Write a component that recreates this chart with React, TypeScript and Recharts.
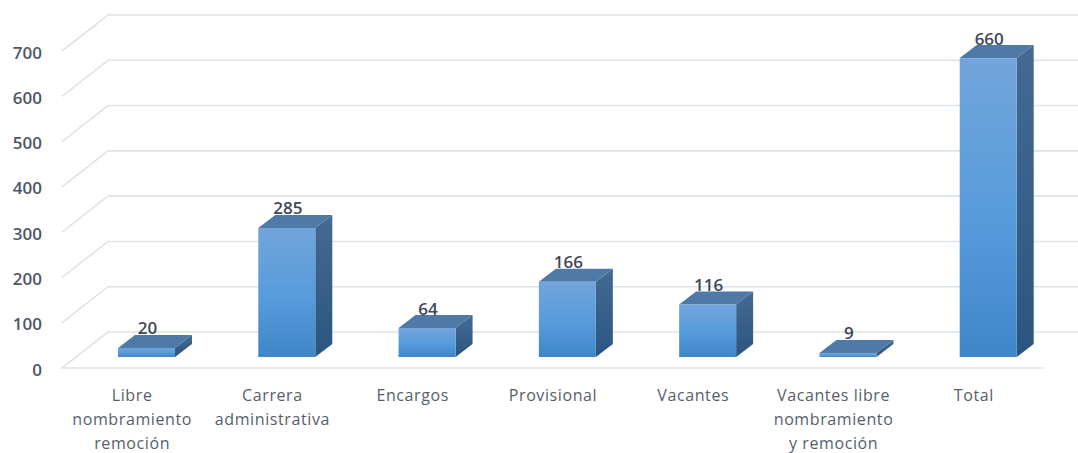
import React from 'react';
import { BarChart, Bar, XAxis, YAxis, CartesianGrid, LabelList } from 'recharts';

const categories = [
  'Libre nombramiento remoción',
  'Carrera administrativa',
  'Encargos',
  'Provisional',
  'Vacantes',
  'Vacantes libre nombramiento y remoción',
  'Total',
];
const tickLines: string[][] = [
  ['Libre', 'nombramiento', 'remoción'],
  ['Carrera', 'administrativa'],
  ['Encargos'],
  ['Provisional'],
  ['Vacantes'],
  ['Vacantes libre', 'nombramiento', 'y remoción'],
  ['Total'],
];
const values = [20, 285, 64, 166, 116, 9, 660];
const yTicks = [0, 100, 200, 300, 400, 500, 600, 700];

const data = categories.map((name, i) => ({ name, value: values[i], idx: i }));

// 3D projection constants (styling)
const WALL_DX = 46;
const WALL_DY = 36;
const FRONT_DX = 14; // bar front plane offset from floor front edge
const FRONT_DY = 11;
const BAR_DX = 17;
const BAR_DY = 13;
const FONT = '"Open Sans", "Noto Sans", sans-serif';
const GRID = '#dfe2e8';

const GridLine = (props: any) => {
  const { x1, y1 } = props;
  const fx = x1 - FRONT_DX;
  const fy = y1 + FRONT_DY;
  const bx = fx + WALL_DX;
  const by = fy - WALL_DY;
  return (
    <path d={`M${fx},${fy} L${bx},${by} L1078,${by}`} stroke={GRID} strokeWidth={1.6} fill="none" />
  );
};

const Bar3D = (props: any) => {
  const { x, y, width, height, index } = props;
  const w = width;
  const h = Math.max(height, 0);
  const id = `b${index}`;
  return (
    <g>
      <defs>
        <linearGradient id={`${id}f`} x1="0" y1="0" x2="0" y2="1">
          <stop offset="0%" stopColor="#72a5da" />
          <stop offset="55%" stopColor="#569bdc" />
          <stop offset="100%" stopColor="#3f86c8" />
        </linearGradient>
        <linearGradient id={`${id}s`} x1="0" y1="0" x2="0" y2="1">
          <stop offset="0%" stopColor="#446a92" />
          <stop offset="100%" stopColor="#2b5580" />
        </linearGradient>
      </defs>
      <polygon
        points={`${x + w},${y} ${x + w + BAR_DX},${y - BAR_DY} ${x + w + BAR_DX},${y + h - BAR_DY} ${x + w},${y + h}`}
        fill={`url(#${id}s)`}
      />
      <polygon
        points={`${x},${y} ${x + BAR_DX},${y - BAR_DY} ${x + w + BAR_DX},${y - BAR_DY} ${x + w},${y}`}
        fill="#4f79a6"
      />
      <rect x={x} y={y} width={w} height={h} fill={`url(#${id}f)`} />
    </g>
  );
};

const ValueLabel = (props: any) => {
  const { x, y, width, value } = props;
  return (
    <text
      x={x + width / 2 + 1}
      y={y - 20}
      textAnchor="middle"
      dominantBaseline="central"
      fontFamily={FONT}
      fontSize={17}
      fontWeight={600}
      fill="#3e4757"
    >
      {value}
    </text>
  );
};

const XTick = (props: any) => {
  const { x, y, index } = props;
  const lines = tickLines[index] || [];
  return (
    <g>
      {lines.map((l, i) => (
        <text
          key={i}
          x={x - FRONT_DX}
          y={y + 37.5 + i * 24}
          textAnchor="middle"
          dominantBaseline="central"
          fontFamily={FONT}
          fontSize={16}
          letterSpacing={0.6}
          fill="#555e6c"
        >
          {l}
        </text>
      ))}
    </g>
  );
};

const YTick = (props: any) => {
  const { x, y, payload } = props;
  return (
    <text
      x={x - 34}
      y={y + FRONT_DY + 1}
      textAnchor="end"
      dominantBaseline="central"
      fontFamily={FONT}
      fontSize={17}
      fontWeight={600}
      fill="#4d5666"
    >
      {payload.value}
    </text>
  );
};

export default function App() {
  return (
    <div style={{ position: 'absolute', left: 0, top: 0, width: 1078, height: 453, background: '#fff' }}>
      <BarChart
        width={1078}
        height={453}
        data={data}
        margin={{ top: 40, right: 20, bottom: 66, left: 36 }}
        barSize={57}
      >
        <CartesianGrid vertical={false} horizontal={(p: any) => <GridLine key={p.key ?? p.index} {...p} />} />
        <XAxis
          dataKey="name"
          axisLine={{ stroke: GRID, strokeWidth: 1.6, transform: `translate(${-FRONT_DX - 1}, ${FRONT_DY})` }}
          tickLine={false}
          tickSize={0}
          tickMargin={0}
          height={30}
          interval={0}
          tick={<XTick />}
        />
        <YAxis
          width={40}
          domain={[0, 700]}
          ticks={yTicks}
          axisLine={false}
          tickLine={false}
          tickSize={0}
          tickMargin={0}
          tick={<YTick />}
          interval={0}
        />
        <Bar dataKey="value" shape={<Bar3D />} isAnimationActive={false}>
          <LabelList dataKey="value" content={<ValueLabel />} />
        </Bar>
      </BarChart>
    </div>
  );
}
